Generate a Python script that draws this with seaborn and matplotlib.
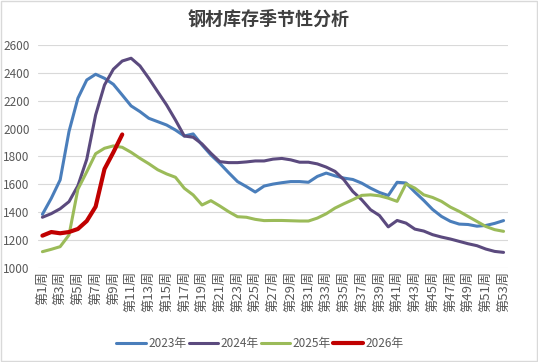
import numpy as np
import pandas as pd
import matplotlib
matplotlib.use("Agg")
import matplotlib.pyplot as plt
import seaborn as sns
from matplotlib.patches import Rectangle

# weekly steel inventory
weeks = [f"第{i}周" for i in range(1, 54)]

inv_2023 = [1385, 1500, 1632, 1980, 2218, 2349, 2390, 2361, 2318, 2241,
            2163, 2122, 2074, 2050, 2026, 1990, 1947, 1962, 1883, 1811,
            1751, 1684, 1620, 1584, 1545, 1588, 1602, 1612, 1620, 1620,
            1615, 1657, 1681, 1661, 1645, 1635, 1609, 1573, 1542, 1520,
            1615, 1610, 1545, 1485, 1420, 1370, 1335, 1315, 1312, 1300,
            1305, 1320, 1340]
inv_2024 = [1364, 1390, 1425, 1476, 1590, 1780, 2098, 2313, 2426, 2485,
            2505, 2450, 2361, 2265, 2170, 2062, 1947, 1938, 1890, 1823,
            1763, 1756, 1756, 1761, 1768, 1768, 1781, 1786, 1776, 1759,
            1759, 1747, 1724, 1693, 1633, 1549, 1490, 1418, 1377, 1295,
            1341, 1322, 1279, 1265, 1239, 1222, 1208, 1191, 1174, 1160,
            1136, 1119, 1112]
inv_2025 = [1117, 1134, 1153, 1237, 1565, 1690, 1820, 1859, 1876, 1866,
            1830, 1787, 1748, 1705, 1675, 1651, 1572, 1524, 1452, 1483,
            1445, 1404, 1368, 1364, 1349, 1340, 1341, 1341, 1339, 1337,
            1337, 1358, 1389, 1430, 1461, 1490, 1521, 1525, 1518, 1501,
            1478, 1604, 1573, 1525, 1506, 1478, 1437, 1406, 1370, 1334,
            1298, 1275, 1263]
inv_2026 = [1232, 1258, 1249, 1258, 1280, 1337, 1440, 1710, 1830, 1958]

years = ["2023年", "2024年", "2025年", "2026年"]
colors = ["#4a7ebb", "#5b4a7e", "#9bbb59", "#c00000"]

rows = []
for yr, vals in zip(years, [inv_2023, inv_2024, inv_2025, inv_2026]):
    for i, v in enumerate(vals):
        rows.append({"week": i, "year": yr, "inventory": v})
df = pd.DataFrame(rows)

sns.set_style("white")
plt.rcParams["font.family"] = ["Noto Sans CJK SC", "DejaVu Sans"]

fig = plt.figure(figsize=(5.38, 3.62), dpi=100)
ax = fig.add_axes([0.0706, 0.2597, 0.8736, 0.616])

for yr, col in zip(years, colors):
    sub = df[df["year"] == yr]
    sns.lineplot(data=sub, x="week", y="inventory", color=col,
                 linewidth=3.0 if yr == "2026年" else 2.2,
                 label=yr, ax=ax, zorder=3 if yr == "2026年" else 2)

ax.set_xlim(-0.5, 52.5)
ax.set_ylim(1000, 2600)
ax.set_yticks(range(1000, 2601, 200))
ax.set_xticks(range(0, 53, 2))
ax.set_xticklabels(weeks[::2], rotation=90, fontsize=9.5, color="#595959")
ax.tick_params(axis="y", labelsize=8.5, colors="#595959", length=0, pad=6)
ax.tick_params(axis="x", length=0, pad=2)
ax.yaxis.grid(True, color="#d9d9d9", linewidth=0.8)
ax.xaxis.grid(False)
for s in ax.spines.values():
    s.set_visible(False)
ax.set_xlabel("")
ax.set_ylabel("")

ax.legend_.remove()
handles, labels = ax.get_legend_handles_labels()
fig.legend(handles, labels, loc="center", bbox_to_anchor=(0.483, 0.052),
           ncol=4, frameon=False, fontsize=8.5, handlelength=2.5,
           handletextpad=0.2, columnspacing=0.2, labelcolor="#595959")

fig.text(0.5, 0.948, "钢材库存季节性分析", ha="center", va="center",
         fontsize=13, fontweight="bold", color="#404040")

fig.patches.append(Rectangle((0.002, 0.003), 0.996, 0.994, transform=fig.transFigure,
                             fill=False, edgecolor="#d9d9d9", linewidth=1))

fig.savefig("out.png", dpi=100)
